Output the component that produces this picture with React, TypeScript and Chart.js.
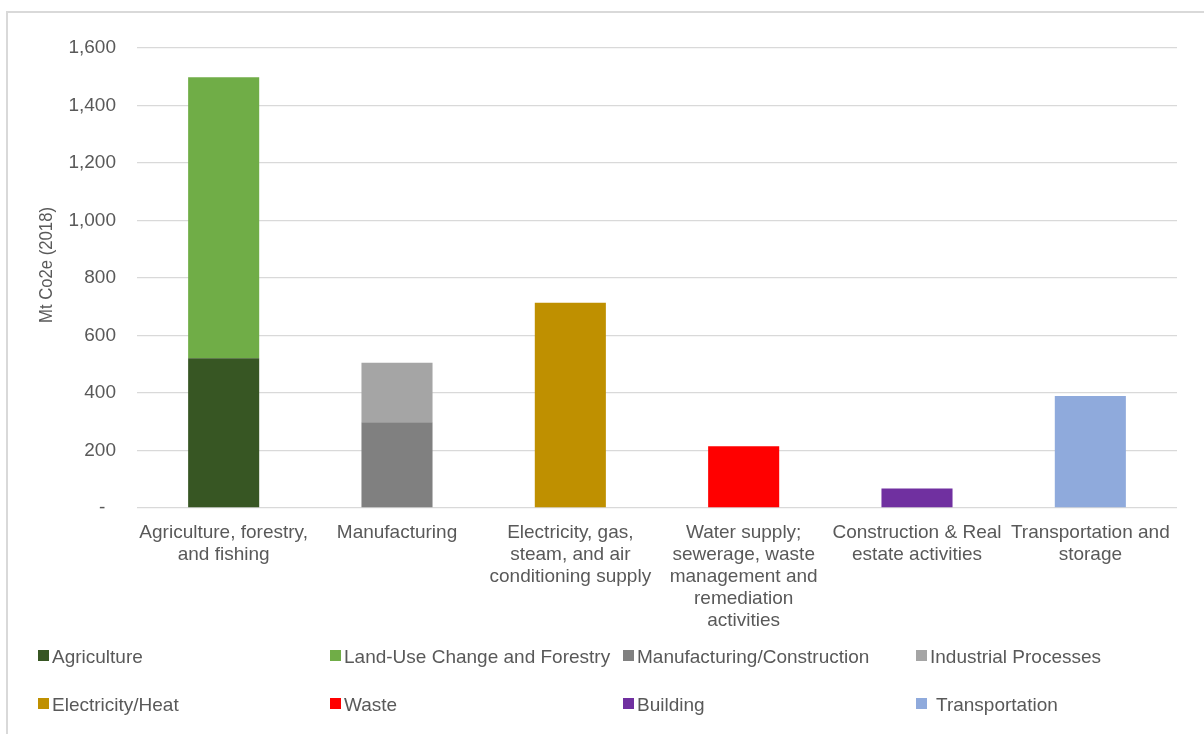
import React, { useEffect, useRef } from "react";
import { Chart, registerables } from "chart.js";

Chart.register(...registerables);

const categories: string[][] = [
  ["Agriculture, forestry,", "and fishing"],
  ["Manufacturing"],
  ["Electricity, gas,", "steam, and air", "conditioning supply"],
  ["Water supply;", "sewerage, waste", "management and", "remediation", "activities"],
  ["Construction & Real", "estate activities"],
  ["Transportation and", "storage"],
];

const seriesNames = [
  "Agriculture",
  "Land-Use Change and Forestry",
  "Manufacturing/Construction",
  "Industrial Processes",
  "Electricity/Heat",
  "Waste",
  "Building",
  "Transportation",
];

const agriculture = [521, null, null, null, null, null];
const landUse = [977, null, null, null, null, null];
const manufacturing = [null, 298, null, null, null, null];
const industrial = [null, 207, null, null, null, null];
const electricity = [null, null, 714, null, null, null];
const waste = [null, null, null, 215, null, null];
const building = [null, null, null, null, 68, null];
const transportation = [null, null, null, null, null, 390];

const seriesValues = [agriculture, landUse, manufacturing, industrial, electricity, waste, building, transportation];

const colors = ["#375623", "#70ad47", "#808080", "#a5a5a5", "#bf9000", "#ff0000", "#7030a0", "#8faadc"];

const yTicks = [0, 200, 400, 600, 800, 1000, 1200, 1400, 1600];
const yTitle = "Mt Co2e (2018)";

const FONT = "'Liberation Sans', Arial, sans-serif";
const TEXT = "#595959";

const legendCols = [38, 330, 623, 916];
const legendRows = [657, 705];

export default function App() {
  const ref = useRef<HTMLCanvasElement | null>(null);
  useEffect(() => {
    if (!ref.current) return;
    const extras = {
      id: "extras",
      afterDraw(chart: any) {
        const ctx = chart.ctx;
        ctx.save();
        ctx.fillStyle = TEXT;
        ctx.font = `19px ${FONT}`;
        ctx.textAlign = "center";
        ctx.textBaseline = "middle";
        ctx.translate(47, 265);
        ctx.rotate(-Math.PI / 2);
        ctx.fillText(yTitle, 0, 0, 116);
        ctx.restore();
        ctx.save();
        ctx.font = `19px ${FONT}`;
        ctx.textBaseline = "middle";
        ctx.textAlign = "left";
        seriesNames.forEach((name, i) => {
          const col = i % 4;
          const row = Math.floor(i / 4);
          const x = legendCols[col];
          const y = legendRows[row];
          ctx.fillStyle = colors[i];
          ctx.fillRect(x, y - 7, 11, 11);
          ctx.fillStyle = TEXT;
          const offset = name === "Transportation" ? 20 : 14;
          ctx.fillText(name, x + offset, y + 1);
        });
        ctx.restore();
      },
    };
    const chart = new Chart(ref.current, {
      type: "bar",
      data: {
        labels: categories,
        datasets: seriesNames.map((name, i) => ({
          label: name,
          data: seriesValues[i],
          backgroundColor: colors[i],
          borderWidth: 0,
          barPercentage: 0.41,
          categoryPercentage: 1,
          skipNull: true,
        })),
      },
      options: {
        animation: false,
        responsive: true,
        maintainAspectRatio: false,
        layout: { padding: { top: 48, right: 27, left: 0, bottom: 0 } },
        plugins: { legend: { display: false }, tooltip: { enabled: false } },
        scales: {
          x: {
            stacked: true,
            grid: { display: false, drawTicks: false },
            border: { display: false },
            ticks: {
              color: TEXT,
              font: { family: FONT, size: 19, lineHeight: 1.16 },
              maxRotation: 0,
              autoSkip: false,
              padding: 14,
            },
            afterFit(scale: any) {
              scale.height = 226;
            },
          },
          y: {
            stacked: true,
            min: 0,
            max: 1600,
            afterBuildTicks(scale: any) {
              scale.ticks = yTicks.map((v) => ({ value: v }));
            },
            grid: { color: "#d9d9d9", lineWidth: 1.3, drawTicks: false, tickLength: 0 },
            border: { display: false },
            ticks: {
              color: TEXT,
              font: { family: FONT, size: 19 },
              padding: 21,
              callback: (v: any) => (v === 0 ? "-  " : Number(v).toLocaleString("en-US")),
            },
            afterFit(scale: any) {
              scale.width = 137;
            },
          },
        },
      },
      plugins: [extras],
    });
    return () => chart.destroy();
  }, []);
  return (
    <div style={{ position: "fixed", left: 0, top: 0, width: 1204, height: 734, background: "#fff" }}>
      <div
        style={{
          position: "absolute",
          left: 6,
          top: 11,
          width: 1204,
          height: 734,
          borderLeft: "2px solid #d9d9d9",
          borderTop: "2px solid #d9d9d9",
        }}
      />
      <canvas ref={ref} style={{ position: "absolute", left: 0, top: 0, width: 1204, height: 734 }} />
    </div>
  );
}
